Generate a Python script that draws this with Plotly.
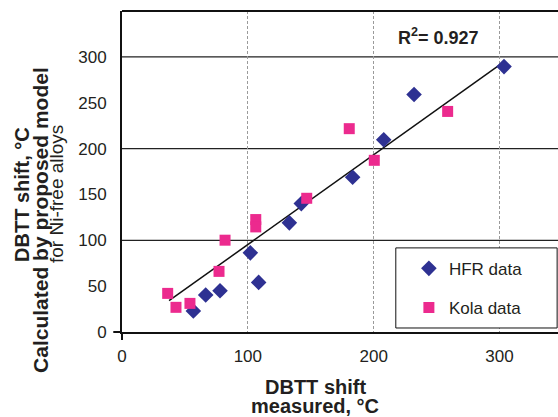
import plotly.graph_objects as go

# ---- data ----
hfr_x = [56.7, 66.5, 77.9, 102.0, 108.6, 133.0, 142.5, 183.3, 208.0, 232.1, 303.6]
hfr_y = [22.9, 40.3, 44.9, 86.3, 54.1, 119.0, 140.0, 168.7, 209.7, 259.0, 289.4]
kola_x = [36.3, 42.9, 54.0, 77.1, 81.9, 106.3, 106.3, 146.8, 180.6, 200.5, 258.8]
kola_y = [42.1, 26.9, 31.2, 66.1, 100.1, 122.6, 114.6, 145.8, 221.7, 187.2, 240.5]
trend_x = [37.4, 301.8]
trend_y = [34.1, 292.8]
x_ticks = [0, 100, 200, 300]
y_ticks = [0, 50, 100, 150, 200, 250, 300]
y_grid = [100, 200, 300]
r_squared = 0.927

FONT = "Liberation Sans"
TXT = "#231f20"

fig = go.Figure()
fig.add_trace(go.Scatter(
    x=trend_x, y=trend_y, mode="lines",
    line=dict(color="#111111", width=1.5), showlegend=False, hoverinfo="skip"))
fig.add_trace(go.Scatter(
    x=hfr_x, y=hfr_y, mode="markers", name="HFR data", legendgroup="a",
    marker=dict(symbol="diamond", size=12, color="#2e3192")))
fig.add_trace(go.Scatter(
    x=kola_x, y=kola_y, mode="markers", name="Kola data", legendgroup="b",
    marker=dict(symbol="square", size=11, color="#ec2a8e")))

shapes = []
for v in y_grid:
    shapes.append(dict(type="line", xref="paper", x0=0, x1=1, yref="y", y0=v, y1=v,
                       line=dict(color="#222222", width=1.2), layer="between"))
# top frame line
shapes.append(dict(type="line", xref="paper", yref="paper", x0=0, x1=1, y0=1, y1=1,
                   line=dict(color="#111111", width=2)))
# crossing ticks at origin
shapes.append(dict(type="line", xref="paper", yref="paper", x0=-0.02, x1=0, y0=0, y1=0,
                   line=dict(color="#111111", width=2)))
shapes.append(dict(type="line", xref="paper", yref="paper", x0=0, x1=0, y0=0, y1=-0.025,
                   line=dict(color="#111111", width=2)))
# legend frame
shapes.append(dict(type="rect", xref="paper", yref="paper", x0=0.628, x1=0.998,
                   y0=0.0125, y1=0.262, fillcolor="white",
                   line=dict(color="#111111", width=1), layer="above"))

annotations = [
    dict(text="<b>DBTT shift</b>", xref="paper", yref="paper", x=0.4427, y=-0.170,
         showarrow=False, xanchor="center", yanchor="middle",
         font=dict(family=FONT, size=20, color=TXT)),
    dict(text="<b>measured, °C</b>", xref="paper", yref="paper", x=0.4427, y=-0.2305,
         showarrow=False, xanchor="center", yanchor="middle",
         font=dict(family=FONT, size=20, color=TXT)),
    dict(text="<b>DBTT shift, °C</b>", xref="paper", yref="paper", x=-0.2294, y=0.43,
         textangle=-90, showarrow=False, xanchor="center", yanchor="middle",
         font=dict(family=FONT, size=20, color=TXT)),
    dict(text="<b>Calculated by proposed model</b>", xref="paper", yref="paper",
         x=-0.1858, y=0.349, textangle=-90, showarrow=False,
         xanchor="center", yanchor="middle",
         font=dict(family=FONT, size=21, color=TXT)),
    dict(text="for Ni-free alloys", xref="paper", yref="paper", x=-0.149, y=0.43,
         textangle=-90, showarrow=False, xanchor="center", yanchor="middle",
         font=dict(family=FONT, size=19, color=TXT)),
    dict(text="<b>R<sup>2</sup>= %.3f</b>" % r_squared, xref="paper", yref="paper",
         x=0.7259, y=0.92, showarrow=False, xanchor="center", yanchor="middle",
         font=dict(family=FONT, size=18, color=TXT)),
]

fig.update_layout(
    width=558, height=417,
    margin=dict(l=122, r=0, t=11, b=85),
    paper_bgcolor="white", plot_bgcolor="white",
    font=dict(family=FONT, color=TXT),
    shapes=shapes, annotations=annotations,
    legend=dict(x=0.658, y=0.253, xanchor="left", yanchor="top",
                bgcolor="rgba(0,0,0,0)", borderwidth=0, tracegroupgap=14,
                font=dict(family=FONT, size=17, color=TXT)),
    xaxis=dict(range=[0, 346.5], tickvals=x_ticks, showgrid=True,
               gridcolor="#9a9a9a", gridwidth=1, griddash="3px,2px",
               showline=True, linecolor="#111111", linewidth=2, zeroline=False,
               ticks="", ticklabelstandoff=8,
               tickfont=dict(family=FONT, size=17, color=TXT)),
    yaxis=dict(range=[0, 350], tickvals=y_ticks, showgrid=False,
               showline=True, linecolor="#111111", linewidth=2, zeroline=False,
               ticks="", ticklabelstandoff=10,
               tickfont=dict(family=FONT, size=17, color=TXT)),
)

fig.write_html(
    "out.html",
    config={"displayModeBar": False},
    post_script="document.body.style.margin='0';document.body.style.overflow='hidden';",
)
